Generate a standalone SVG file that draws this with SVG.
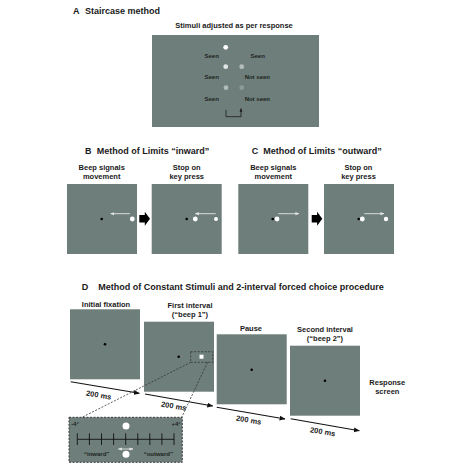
<svg xmlns="http://www.w3.org/2000/svg" width="474" height="474" viewBox="0 0 474 474">
<defs>
<marker id="ah" viewBox="0 0 10 10" refX="9" refY="5" markerWidth="6" markerHeight="6" markerUnits="userSpaceOnUse" orient="auto"><path d="M0,1 L10,5 L0,9 z" fill="#111"/></marker>
<marker id="aw" viewBox="0 0 10 10" refX="9" refY="5" markerWidth="4" markerHeight="4" markerUnits="userSpaceOnUse" orient="auto-start-reverse"><path d="M0,1 L10,5 L0,9 z" fill="#e4e4e4"/></marker>
<marker id="ad" viewBox="0 0 10 10" refX="9" refY="5" markerWidth="3.5" markerHeight="3.5" markerUnits="userSpaceOnUse" orient="auto"><path d="M0,1 L10,5 L0,9 z" fill="#1a1a1a"/></marker>
</defs>
<style>
.scr{fill:#6e7e7a}
.t{font-family:"Liberation Sans",Arial,sans-serif;font-weight:bold;fill:#1a1a1a}
.h{font-size:9px}
.l{font-size:7.5px;text-anchor:middle}
.s{font-size:6px;text-anchor:middle;fill:#1e2422}
.fx{fill:#000}
.tl{stroke:#111;stroke-width:1.1;fill:none;marker-end:url(#ah)}
.mv{stroke:#e4e4e4;stroke-width:0.9;fill:none;marker-end:url(#aw)}
.dash{stroke:#333;stroke-width:0.8;stroke-dasharray:2,1.5;fill:none}
.wd{fill:#fff}
</style>
<rect width="474" height="474" fill="#fff"/>

<!-- Panel A -->
<g id="panelA">
<text class="t h" x="73" y="13.5">A</text>
<text class="t h" x="85" y="13.5">Staircase method</text>
<text class="t l" x="234" y="27.7">Stimuli adjusted as per response</text>
<rect class="scr" x="152" y="35" width="167" height="92"/>
<circle cx="225.7" cy="47.3" r="2.4" fill="#ffffff"/>
<circle cx="225.7" cy="66.7" r="2.4" fill="#e2e6e5"/>
<circle cx="241.7" cy="66.7" r="2.4" fill="#b3bdba"/>
<circle cx="226" cy="87.7" r="2.4" fill="#b0bab7"/>
<circle cx="241.7" cy="87.7" r="2.4" fill="#8f9b98"/>
<text class="t s" x="211.7" y="58">Seen</text>
<text class="t s" x="257.7" y="58">Seen</text>
<text class="t s" x="211.7" y="79.3">Seen</text>
<text class="t s" x="257.3" y="79">Not seen</text>
<text class="t s" x="211.7" y="101.3">Seen</text>
<text class="t s" x="257.3" y="101.3">Not seen</text>
<polyline points="226,110 226,116.7 241,116.7 241,108.5" fill="none" stroke="#1a1a1a" stroke-width="0.8" marker-end="url(#ad)"/>
</g>

<!-- Panel B -->
<g id="panelB">
<text class="t h" x="85" y="154">B</text>
<text class="t h" x="96.7" y="154">Method of Limits “inward”</text>
<g id="B1">
<text class="t l" x="101.7" y="170">Beep signals</text>
<text class="t l" x="101.7" y="179.4">movement</text>
<rect class="scr" x="67" y="184" width="70" height="70"/>
<circle class="fx" cx="101.7" cy="219" r="1.3"/>
<circle class="wd" cx="132.3" cy="219" r="2.4"/>
<line class="mv" x1="130" y1="213.7" x2="110.7" y2="213.7"/>
</g>
<path id="Barrow" d="M139.3,215 H144.8 V211.7 L150,218.7 L144.8,225.7 V222.4 H139.3 Z" fill="#000"/>
<g id="B2">
<text class="t l" x="186.7" y="170">Stop on</text>
<text class="t l" x="186.7" y="179.4">key press</text>
<rect class="scr" x="151.7" y="184" width="70" height="70"/>
<circle class="fx" cx="186.7" cy="219" r="1.3"/>
<circle class="wd" cx="195.3" cy="219" r="2.4"/>
<circle class="wd" cx="216" cy="219" r="2"/>
<line class="mv" x1="215.7" y1="213.7" x2="195.3" y2="213.7"/>
</g>
</g>

<!-- Panel C -->
<g id="panelC">
<text class="t h" x="251.7" y="154">C</text>
<text class="t h" x="263.3" y="154">Method of Limits “outward”</text>
<g id="C1">
<text class="t l" x="273.3" y="170">Beep signals</text>
<text class="t l" x="273.3" y="179.4">movement</text>
<rect class="scr" x="238.3" y="184" width="70" height="70"/>
<circle class="fx" cx="272.7" cy="219" r="1.3"/>
<circle class="wd" cx="277" cy="219" r="2.4"/>
<line class="mv" x1="278.3" y1="213.7" x2="299" y2="213.7"/>
</g>
<path id="Carrow" d="M311.7,215 H317.1 V211.7 L322.3,218.7 L317.1,225.7 V222.4 H311.7 Z" fill="#000"/>
<g id="C2">
<text class="t l" x="358.5" y="170">Stop on</text>
<text class="t l" x="358.5" y="179.4">key press</text>
<rect class="scr" x="324" y="184" width="70" height="70"/>
<circle class="fx" cx="358.7" cy="219" r="1.3"/>
<circle class="wd" cx="362.3" cy="219" r="2.4"/>
<circle class="wd" cx="386" cy="219" r="2.2"/>
<line class="mv" x1="364.3" y1="213.7" x2="384" y2="213.7"/>
</g>
</g>

<!-- Panel D -->
<g id="panelD">
<text class="t h" x="81.7" y="290">D</text>
<text class="t h" x="98.3" y="290">Method of Constant Stimuli and 2-interval forced choice procedure</text>
<g id="D1">
<text class="t l" x="106" y="306.7">Initial fixation</text>
<rect class="scr" x="70" y="309.3" width="70" height="70"/>
<circle class="fx" cx="105" cy="344.3" r="1.3"/>
</g>
<g id="D2">
<text class="t l" x="190" y="307.7">First interval</text>
<text class="t l" x="190" y="317">(“beep 1”)</text>
<rect class="scr" x="144" y="321.7" width="70" height="70"/>
<circle class="fx" cx="178.7" cy="356.7" r="1.3"/>
<rect x="199.5" y="354.7" width="4" height="4" fill="#fff"/>
<rect class="dash" x="190.7" y="351.7" width="22" height="10.6"/>
</g>
<g id="D3">
<text class="t l" x="251" y="331">Pause</text>
<rect class="scr" x="216.7" y="334.3" width="70" height="70"/>
<circle class="fx" cx="251.7" cy="369.7" r="1.3"/>
</g>
<g id="D4">
<text class="t l" x="325" y="331.7">Second interval</text>
<text class="t l" x="325" y="341">(“beep 2”)</text>
<rect class="scr" x="290" y="345.7" width="70" height="70"/>
<circle class="fx" cx="325" cy="380.7" r="1.3"/>
</g>
<g id="D5">
<text class="t l" x="387.3" y="385">Response</text>
<text class="t l" x="387.3" y="394.4">screen</text>
</g>
<g id="zoomPanel">
<rect x="69" y="417.3" width="113.3" height="45" class="scr" stroke="#2a2a2a" stroke-width="0.9" stroke-dasharray="2,1.5"/>
<text class="t s" x="75" y="426">-4°</text>
<text class="t s" x="176" y="426">+4°</text>
<circle class="wd" cx="126" cy="426" r="3.5"/>
<g stroke="#111" stroke-width="0.9">
<line x1="77.3" y1="439.3" x2="174" y2="439.3"/>
<line x1="77.3" y1="433.3" x2="77.3" y2="445"/>
<line x1="89.4" y1="433.3" x2="89.4" y2="445"/>
<line x1="101.5" y1="433.3" x2="101.5" y2="445"/>
<line x1="113.6" y1="433.3" x2="113.6" y2="445"/>
<line x1="125.7" y1="433.3" x2="125.7" y2="445"/>
<line x1="137.8" y1="433.3" x2="137.8" y2="445"/>
<line x1="149.8" y1="433.3" x2="149.8" y2="445"/>
<line x1="161.9" y1="433.3" x2="161.9" y2="445"/>
<line x1="174" y1="433.3" x2="174" y2="445"/>
</g>
<text class="t s" x="96.7" y="455.5">“inward”</text>
<text class="t s" x="158.3" y="455.5">“outward”</text>
<line x1="118.3" y1="449" x2="133" y2="449" stroke="#e4e4e4" stroke-width="0.9" marker-start="url(#aw)" marker-end="url(#aw)"/>
<circle class="wd" cx="126" cy="454.3" r="3.5"/>
</g>
</g>

<!-- Connectors -->
<g id="connectors">
<line class="tl" x1="70.7" y1="381.7" x2="139.3" y2="393.3"/>
<line class="tl" x1="145" y1="394" x2="212.7" y2="406"/>
<line class="tl" x1="216.7" y1="407.3" x2="285" y2="419"/>
<line class="tl" x1="290.7" y1="418.7" x2="359.3" y2="430.7"/>
<line class="dash" x1="190.7" y1="362.3" x2="82" y2="417.3"/>
<line class="dash" x1="207.5" y1="362.3" x2="181.7" y2="417.3"/>
<text class="t l" transform="translate(98.3,397.6) rotate(9.6)">200 ms</text>
<text class="t l" transform="translate(173.3,408.6) rotate(9.6)">200 ms</text>
<text class="t l" transform="translate(248.3,422.6) rotate(9.6)">200 ms</text>
<text class="t l" transform="translate(322.3,434.3) rotate(9.6)">200 ms</text>
</g>
</svg>
